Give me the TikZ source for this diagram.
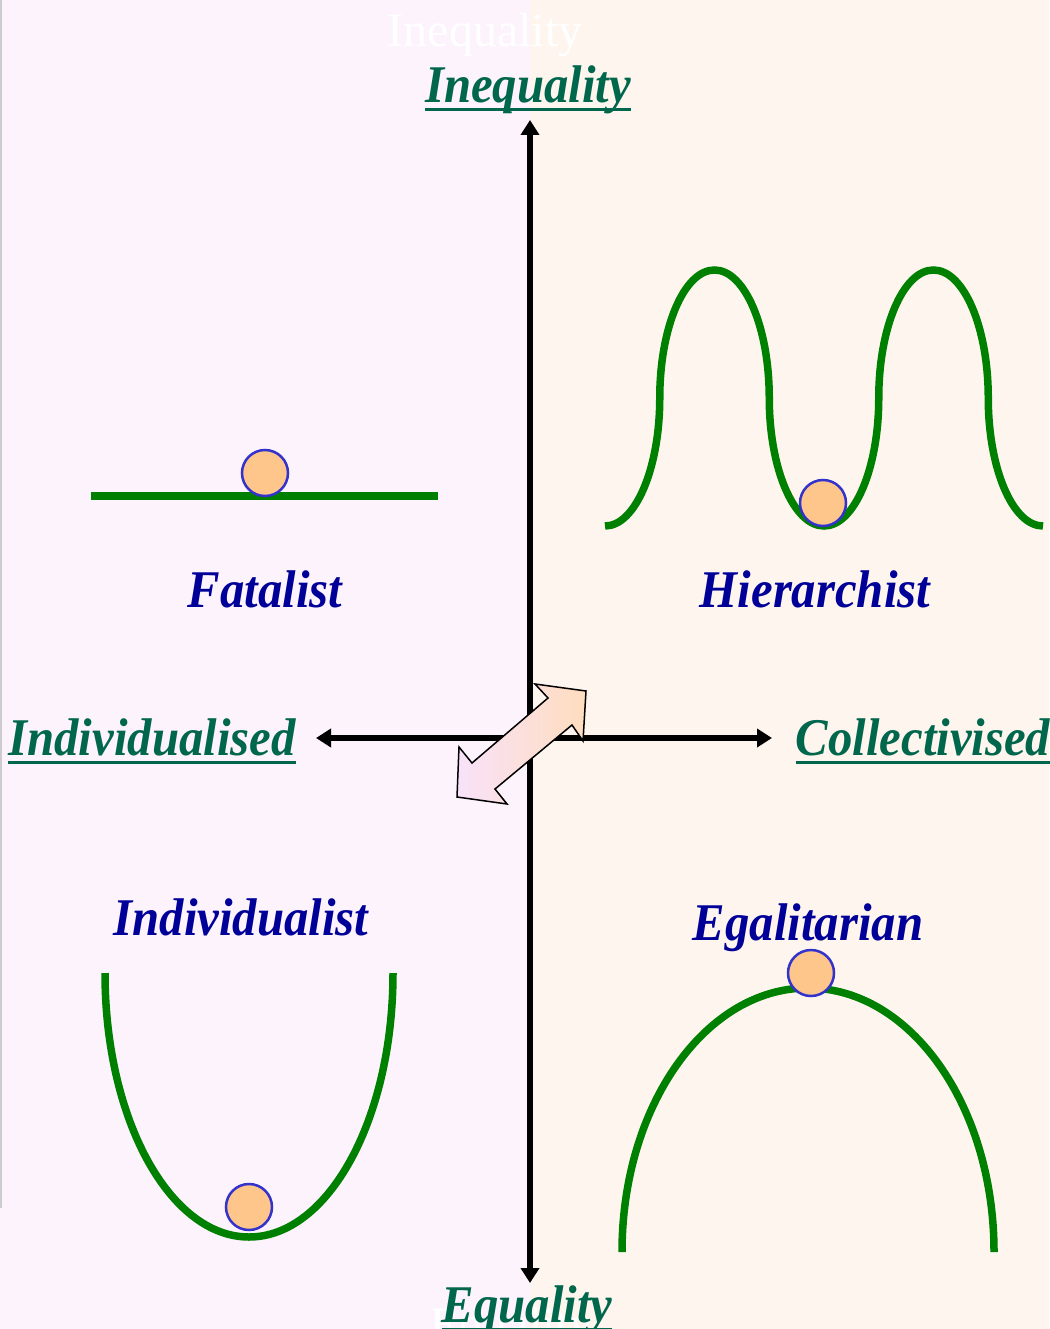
\documentclass[tikz,border=0pt]{standalone}
\usepackage{fontspec}
\setmainfont{Liberation Serif}
\newfontface\labfont[FakeStretch=0.92]{Liberation Serif Bold Italic}
\usetikzlibrary{arrows.meta}
\definecolor{ctPink}{HTML}{FDF3FD}
\definecolor{ctPeach}{HTML}{FEF6EE}
\definecolor{ctBlue}{HTML}{000099}
\definecolor{ctAxis}{HTML}{00664C}
\definecolor{ctCurve}{HTML}{008000}
\definecolor{ctBall}{HTML}{FFC68C}
\definecolor{ctRim}{HTML}{3333CC}
\definecolor{ctArrowA}{HTML}{F8E2FA}
\definecolor{ctArrowB}{HTML}{FFDDBE}
\newcommand{\axul}[1]{\setbox0=\hbox{#1}\rlap{\rule[-8.5pt]{\wd0}{3pt}}\box0}

\begin{document}
\begin{tikzpicture}[
    x=1pt, y=1pt,
    quad/.style={font=\labfont\fontsize{53}{58}\selectfont, text=ctBlue, anchor=base},
    axlab/.style={font=\labfont\fontsize{53}{58}\selectfont, text=ctAxis, anchor=base},
    ghost/.style={font=\fontsize{48}{52}\selectfont, text=white, anchor=base},
    curve/.style={draw=ctCurve, line width=7.5pt},
    ball/.style={circle, fill=ctBall, draw=ctRim, line width=2.5pt,
                 minimum size=46pt, inner sep=0pt},
    axis/.style={{Triangle[length=15pt,width=18pt]}-{Triangle[length=15pt,width=18pt]},
                 line width=5.5pt, draw=black},
  ]
  \useasboundingbox (0,0) rectangle (1049,-1329);
  \fill[ctPink] (0,0) rectangle (530,-1329);
  \fill[ctPeach] (530,0) rectangle (1049,-1329);
  \draw[black!20, line width=1.5pt] (0.75,0) -- (0.75,-1208);

  \node[ghost] (ghtop) at (485,-47) {Inequality};
  \node[ghost, anchor=base west] (ghbot) at (427,-1340) {Equality};

  % axes
  \coordinate (axtop) at (530,-120);
  \coordinate (axbot) at (530,-1283);
  \coordinate (axleft) at (316,-738);
  \coordinate (axright) at (772,-738);
  \draw[axis] (axtop) -- (axbot);
  \draw[axis] (axleft) -- (axright);

  \node[axlab] (ineq) at (528,-103) {\axul{Inequality}};
  \node[axlab] (eq) at (527,-1322) {\axul{Equality}};
  \node[axlab] (indiv) at (152,-755) {\axul{Individualised}};
  \node[axlab] (coll) at (923,-755) {\axul{Collectivised}};

  % fatalist: flat ground
  \draw[curve] (91,-496) -- (438,-496);
  \node[ball] (bfat) at (265,-473) {};
  \node[quad] (fat) at (265,-607) {Fatalist};

  % hierarchist: two hills, ball in the valley
  \draw[curve] (605,-526)
    arc[start angle=-90, end angle=0, x radius=54.75, y radius=128]
    arc[start angle=180, end angle=0, x radius=54.75, y radius=128]
    arc[start angle=180, end angle=360, x radius=54.75, y radius=128]
    arc[start angle=180, end angle=0, x radius=54.75, y radius=128]
    arc[start angle=180, end angle=270, x radius=54.75, y radius=128];
  \node[ball] (bhier) at (823,-503) {};
  \node[quad] (hier) at (815,-607) {Hierarchist};

  % individualist: bowl
  \draw[curve] (105,-973) arc[start angle=180, end angle=360, x radius=144, y radius=264];
  \node[ball] (bind) at (249,-1207) {};
  \node[quad] (ind) at (241,-935) {Individualist};

  % egalitarian: hill top
  \draw[curve] (622,-1252) arc[start angle=180, end angle=0, x radius=186, y radius=264];
  \node[ball] (begal) at (811,-973) {};
  \node[quad] (egal) at (808,-940) {Egalitarian};

  % two-way shift arrow
  \draw[left color=ctArrowA, right color=ctArrowB, draw=black, line width=1.5pt, line join=miter]
    (535,-684) -- (586,-691) -- (583,-741) -- (572,-725) -- (495,-789) -- (507,-804)
    -- (457,-797) -- (459,-747) -- (472,-763) -- (548,-698) -- cycle;
\end{tikzpicture}
\end{document}
